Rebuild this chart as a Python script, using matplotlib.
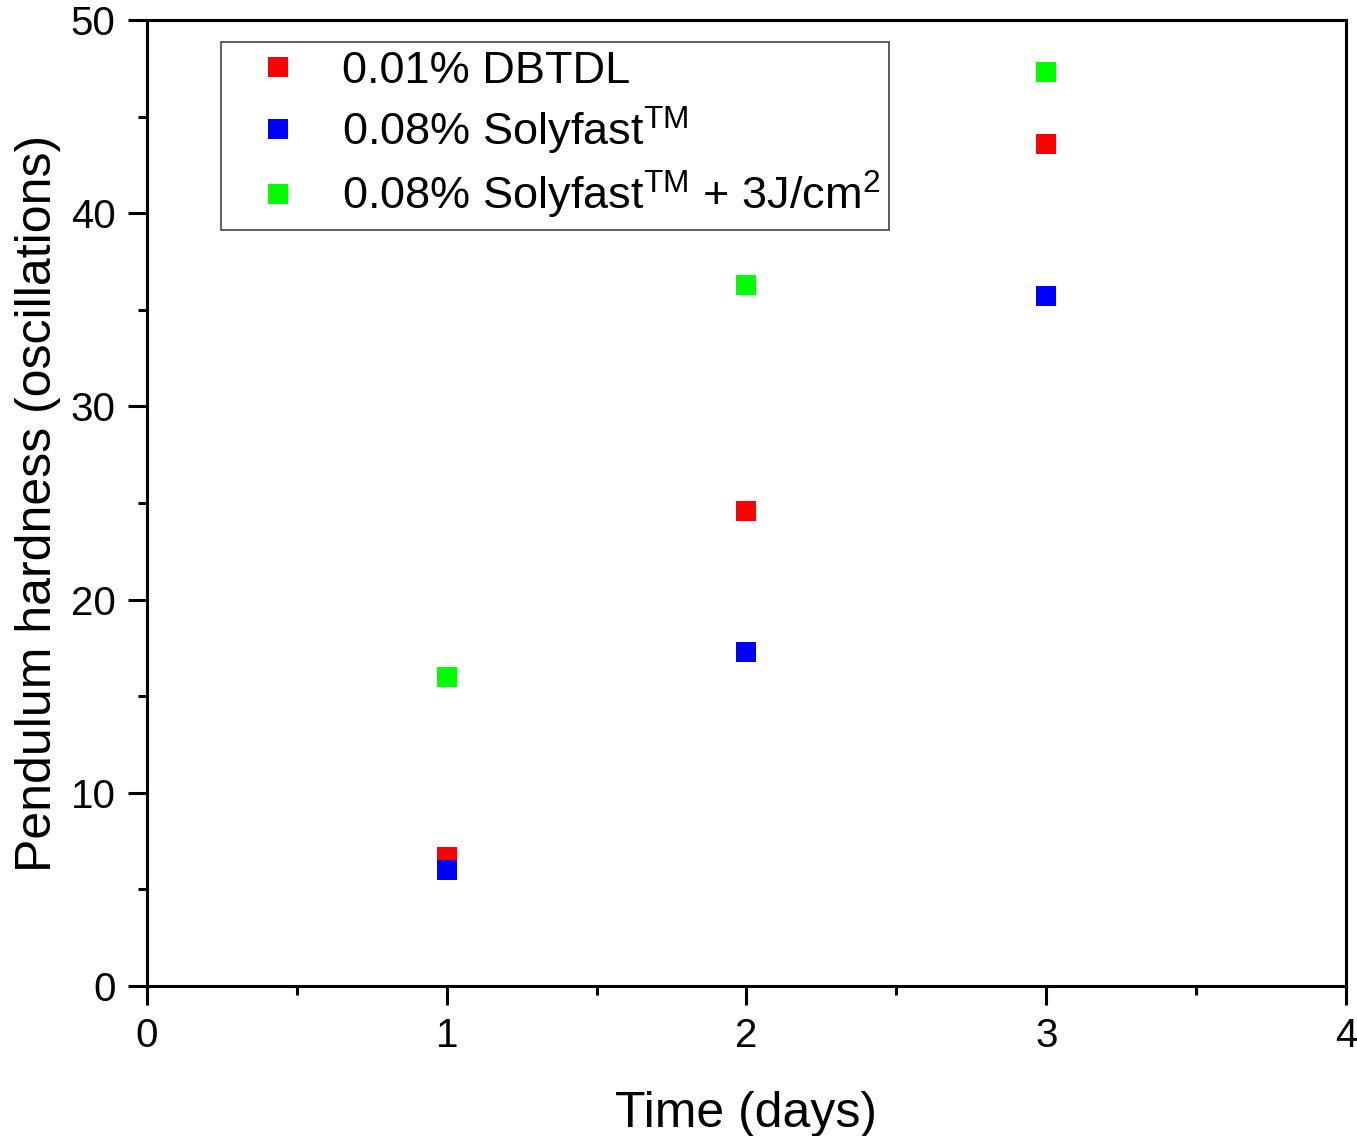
import numpy as np
import matplotlib
matplotlib.use('Agg')
import matplotlib.pyplot as plt
from matplotlib.ticker import MultipleLocator


plt.rcParams['font.family'] = ['Liberation Sans', 'DejaVu Sans']
plt.rcParams['mathtext.fontset'] = 'custom'
plt.rcParams['mathtext.rm'] = 'Liberation Sans'
plt.rcParams['mathtext.it'] = 'Liberation Sans:italic'

# Твёрдость по маятнику по дням
days = [1, 2, 3]
dbtdl = [6.7, 24.6, 43.6]
solyfast = [6.0, 17.3, 35.7]
solyfast_uv = [16.0, 36.3, 47.3]

labels = ['0.01% DBTDL',
          r'0.08% Solyfast$^{\mathrm{TM}}$',
          r'0.08% Solyfast$^{\mathrm{TM}}$ + 3J/cm$^{\mathrm{2}}$']
colors = ['#ff0000', '#0000ff', '#00ff00']

fig = plt.figure(figsize=(13.57, 11.36), dpi=100)
ax = fig.add_axes([0.1083, 0.1320, 0.8836, 0.8504])

for y, lab, c in zip([dbtdl, solyfast, solyfast_uv], labels, colors):
    ax.plot(days, y, 's', color=c, markersize=14.9, markeredgewidth=0,
            label=lab, clip_on=False)

ax.set_xlim(0, 4)
ax.set_ylim(0, 50)
ax.xaxis.set_major_locator(MultipleLocator(1))
ax.xaxis.set_minor_locator(MultipleLocator(0.5))
ax.yaxis.set_major_locator(MultipleLocator(10))
ax.yaxis.set_minor_locator(MultipleLocator(5))

for s in ax.spines.values():
    s.set_linewidth(2.2)
ax.tick_params(which='major', direction='out', length=13.5, width=2.2,
               labelsize=29, pad=9)
ax.tick_params(which='minor', direction='out', length=6.5, width=2.2)

ax.set_xlabel('Time (days)', fontsize=36, labelpad=26)
ax.set_ylabel('Pendulum hardness (oscillations)', fontsize=36, labelpad=7)

# Легенда
leg = ax.legend(loc='upper left', bbox_to_anchor=(0.0617, 0.977),
                borderaxespad=0, fontsize=32.5, frameon=True, fancybox=False,
                handlelength=2.12, handletextpad=0.36, borderpad=0.2,
                labelspacing=0.27)
leg.get_frame().set_edgecolor('black')
leg.get_frame().set_linewidth(1.1)

fig.savefig('out.png', dpi=100)
